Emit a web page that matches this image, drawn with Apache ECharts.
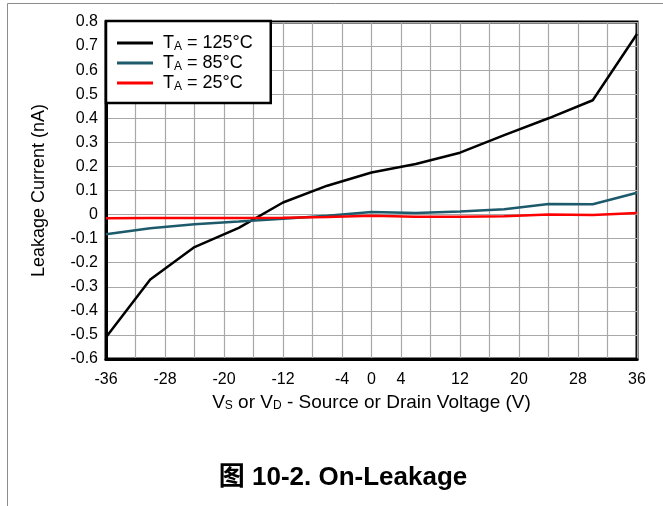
<!DOCTYPE html>
<html>
<head>
<meta charset="utf-8">
<script src="https://cdn.jsdelivr.net/npm/echarts@6/dist/echarts.min.js"></script>
<style>
  html, body { margin: 0; padding: 0; background: #fff; }
  #leakage-chart { width: 663px; height: 506px; }
</style>
</head>
<body>
<div id="leakage-chart"></div>
<script>
// source / drain voltage (V)
const voltages = [-36, -30, -24, -18, -12, -6, 0, 6, 12, 18, 24, 30, 36];
// leakage current (nA) per temperature
const leak125 = [-0.51, -0.27, -0.135, -0.055, 0.05, 0.12, 0.175, 0.21, 0.257, 0.33, 0.40, 0.475, 0.75];
const leak85 = [-0.082, -0.057, -0.04, -0.029, -0.017, -0.005, 0.011, 0.007, 0.013, 0.022, 0.044, 0.043, 0.091];
const leak25 = [-0.015, -0.014, -0.014, -0.014, -0.013, -0.01, -0.005, -0.009, -0.009, -0.007, 0.0, -0.002, 0.007];
const seriesNames = ["TA = 125°C", "TA = 85°C", "TA = 25°C"];
const xTickLabels = [-36, -28, -20, -12, -4, 0, 4, 12, 20, 28, 36];

const font = "Liberation Sans, Arial, Noto Sans CJK SC, sans-serif";
const chart = echarts.init(document.getElementById("leakage-chart"));

function pairs(values) {
  return voltages.map((v, i) => [v, values[i]]);
}

chart.setOption({
  animation: false,
  textStyle: { fontFamily: font },
  title: {
    text: "图 10-2. On-Leakage",
    left: 338,
    top: 460,
    textAlign: "center",
    textStyle: { fontFamily: font, fontSize: 26, fontWeight: "bold", color: "#000" }
  },
  graphic: [
    {
      type: "polyline",
      shape: { points: [[7.5, 506], [7.5, 3.5], [663, 3.5]] },
      style: { stroke: "#8c8c8c", lineWidth: 1, fill: null }
    }
  ],
  legend: {
    orient: "vertical",
    left: 106,
    top: 21,
    padding: [13, 18, 10, 11],
    itemGap: 1,
    itemWidth: 36,
    itemHeight: 3,
    icon: "rect",
    borderColor: "#000",
    borderWidth: 2.5,
    borderRadius: 0,
    backgroundColor: "#fff",
    data: seriesNames,
    formatter: (name) => name.replace("TA", "{m|T}{s|A}").replace(/ = (.*)$/, "{m| = $1}"),
    textStyle: {
      padding: [0, 0, 0, 5],
      rich: {
        m: { fontFamily: font, fontSize: 18, color: "#000", lineHeight: 20 },
        s: { fontFamily: font, fontSize: 12, color: "#000", verticalAlign: "bottom", lineHeight: 14, padding: [6, 0, 0, 0] }
      }
    }
  },
  grid: {
    left: 106,
    right: 26,
    top: 22,
    bottom: 147,
    show: true,
    borderColor: "#000",
    borderWidth: 3
  },
  xAxis: {
    type: "value",
    min: -36,
    max: 36,
    interval: 4,
    name: "V{s|S} or V{s|D} - Source or Drain Voltage (V)",
    nameLocation: "middle",
    nameGap: 31,
    nameTextStyle: {
      fontFamily: font,
      fontSize: 19,
      color: "#000",
      rich: {
        s: { fontFamily: font, fontSize: 12, color: "#000", verticalAlign: "bottom", padding: [6, 0, 0, 0] }
      }
    },
    axisLine: { onZero: false, lineStyle: { color: "#000", width: 3 } },
    axisTick: { show: false },
    axisLabel: {
      fontSize: 16,
      color: "#000",
      margin: 13,
      formatter: (v) => (xTickLabels.includes(v) ? String(v) : "")
    },
    splitLine: { show: true, lineStyle: { color: "#a8a8a8", width: 1.2 } }
  },
  yAxis: {
    type: "value",
    min: -0.6,
    max: 0.8,
    interval: 0.1,
    name: "Leakage Current (nA)",
    nameLocation: "middle",
    nameGap: 58,
    nameTextStyle: { fontFamily: font, fontSize: 18, color: "#000" },
    axisLine: { show: true, onZero: false, lineStyle: { color: "#000", width: 3 } },
    axisTick: { show: false },
    axisLabel: {
      fontSize: 16,
      color: "#000",
      margin: 8,
      formatter: (v) => {
        const r = Math.round(v * 10) / 10;
        return r === 0 ? "0" : String(r);
      }
    },
    splitLine: { show: true, lineStyle: { color: "#a8a8a8", width: 1.2 } }
  },
  series: [
    {
      name: seriesNames[0],
      type: "line",
      symbol: "none",
      data: pairs(leak125),
      lineStyle: { color: "#000", width: 2.5 },
      itemStyle: { color: "#000" }
    },
    {
      name: seriesNames[1],
      type: "line",
      symbol: "none",
      data: pairs(leak85),
      lineStyle: { color: "#1d5a6b", width: 2.5 },
      itemStyle: { color: "#1d5a6b" }
    },
    {
      name: seriesNames[2],
      type: "line",
      symbol: "none",
      data: pairs(leak25),
      lineStyle: { color: "#ff0000", width: 2.5 },
      itemStyle: { color: "#ff0000" }
    }
  ]
});
</script>
</body>
</html>
